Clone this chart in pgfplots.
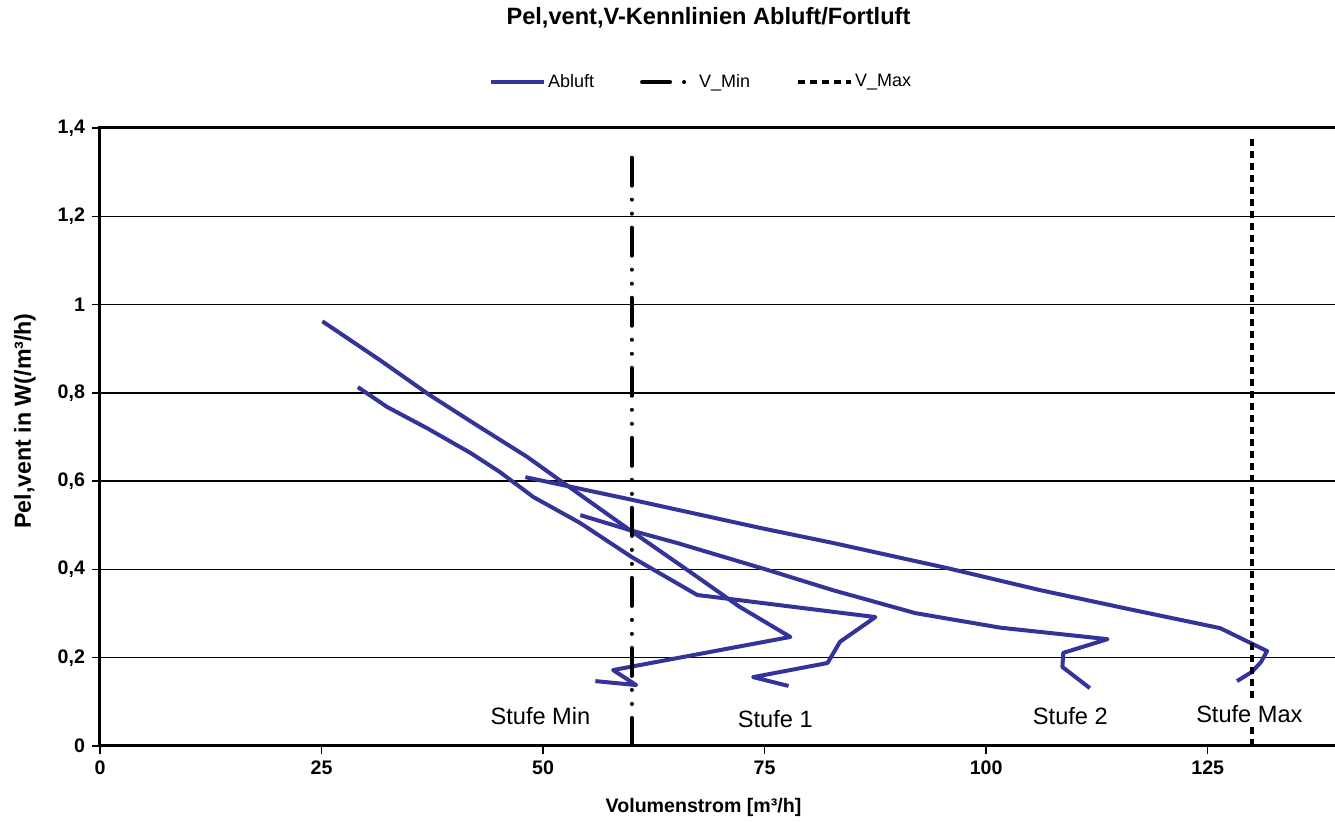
\documentclass[border=0pt]{standalone}
\usepackage{fontspec}
\setmainfont{Liberation Sans}
\usepackage{pgfplots}
\pgfplotsset{compat=1.18}
\definecolor{abluft}{RGB}{51,51,153}

\begin{document}
\begin{tikzpicture}
\useasboundingbox (-50pt,-38pt) rectangle (617.5pt,373pt);
\begin{axis}[
  at={(0,0)}, anchor=south west,
  scale only axis, width=619pt, height=309pt,
  xmin=0, xmax=139.7, ymin=0, ymax=1.4,
  xtick={0,25,50,75,100,125},
  ytick={0,0.2,0.4,0.6,0.8,1,1.2,1.4},
  axis line style={line width=1.5pt},
  ymajorgrids, grid style={black, line width=0.7pt},
  tick align=outside, major tick length=4pt,
  tick style={black, line width=0.7pt},
  tick pos=left,
  /pgf/number format/use comma,
  /pgf/number format/assume math mode=true,
  ticklabel style={font=\fontsize{9.8}{11}\selectfont\bfseries},
  title={Pel,vent,V-Kennlinien Abluft/Fortluft},
  title style={font=\fontsize{11.8}{14}\selectfont\bfseries,
    at={(axis description cs:0.4915,1.1586)}, anchor=center},
  xlabel={Volumenstrom [m³/h]},
  xlabel style={font=\fontsize{9.8}{12}\selectfont\bfseries,
    at={(axis description cs:0.4875,-0.1)}, anchor=center},
  ylabel={Pel,vent in W(/m³/h)},
  ylabel style={font=\fontsize{11.6}{14}\selectfont\bfseries,
    at={(axis description cs:-0.0606,0.526)}, anchor=center},
  legend style={at={(0.4855,1.0744)}, anchor=center, draw=none, fill=none,
    legend columns=3, font=\fontsize{9}{11}\selectfont,
    nodes={inner sep=1pt}},
  legend image code/.code={\draw[#1] (0pt,0pt) -- (26.5pt,0pt);},
  every axis plot/.append style={line join=round},
]
% Stufe Min
\addplot[abluft, line width=2pt] coordinates {
  (25.1,0.962) (31.6,0.874) (37.2,0.795) (42.1,0.732) (48.2,0.655)
  (52.3,0.596) (59.8,0.489) (67.4,0.383) (72.2,0.315) (77.9,0.247)
  (57.9,0.172) (60.5,0.138) (55.9,0.147)};
\addlegendentry{Abluft\hspace*{22pt}}
% Stufe 1
\addplot[abluft, line width=2pt, forget plot] coordinates {
  (29.1,0.813) (32.4,0.768) (36.9,0.720) (41.8,0.664) (45.1,0.621)
  (48.9,0.564) (54.2,0.505) (60.0,0.428) (67.4,0.342) (71.9,0.331)
  (87.5,0.292) (83.5,0.236) (82.1,0.188) (73.7,0.156) (77.7,0.136)};
% Stufe Max
\addplot[abluft, line width=2pt, forget plot] coordinates {
  (48.0,0.609) (60.2,0.557) (74.5,0.494) (82.7,0.460) (95.6,0.403)
  (106.1,0.353) (116.6,0.308) (126.4,0.267) (131.7,0.215) (131.0,0.190)
  (130.0,0.168) (128.3,0.147)};
% Stufe 2
\addplot[abluft, line width=2pt, forget plot] coordinates {
  (54.2,0.523) (59.8,0.489) (65.1,0.460) (75.3,0.399) (82.7,0.353)
  (92.0,0.301) (101.6,0.268) (113.7,0.242) (108.7,0.211) (108.6,0.179)
  (111.7,0.131)};
% V_Min / V_Max
\addplot[black, line width=2pt, line cap=round,
  dash pattern=on 14pt off 7pt on 0.01pt off 7pt on 0.01pt off 7pt]
  coordinates {(60,0) (60,1.36)};
\addlegendentry{V\_Min\hspace*{22pt}}
\addplot[black, line width=2pt, dash pattern=on 3.5pt off 2.5pt]
  coordinates {(130,0) (130,1.38)};
\addlegendentry{V\_Max}

\begin{scope}[every node/.style={font=\fontsize{11.8}{14}\selectfont, fill=white, inner sep=2pt}]
\node at (axis cs:49.7,0.068) {Stufe Min};
\node at (axis cs:76.2,0.061) {Stufe 1};
\node at (axis cs:109.5,0.068) {Stufe 2};
\node at (axis cs:129.7,0.072) {Stufe Max};
\end{scope}
\end{axis}
\end{tikzpicture}
\end{document}
